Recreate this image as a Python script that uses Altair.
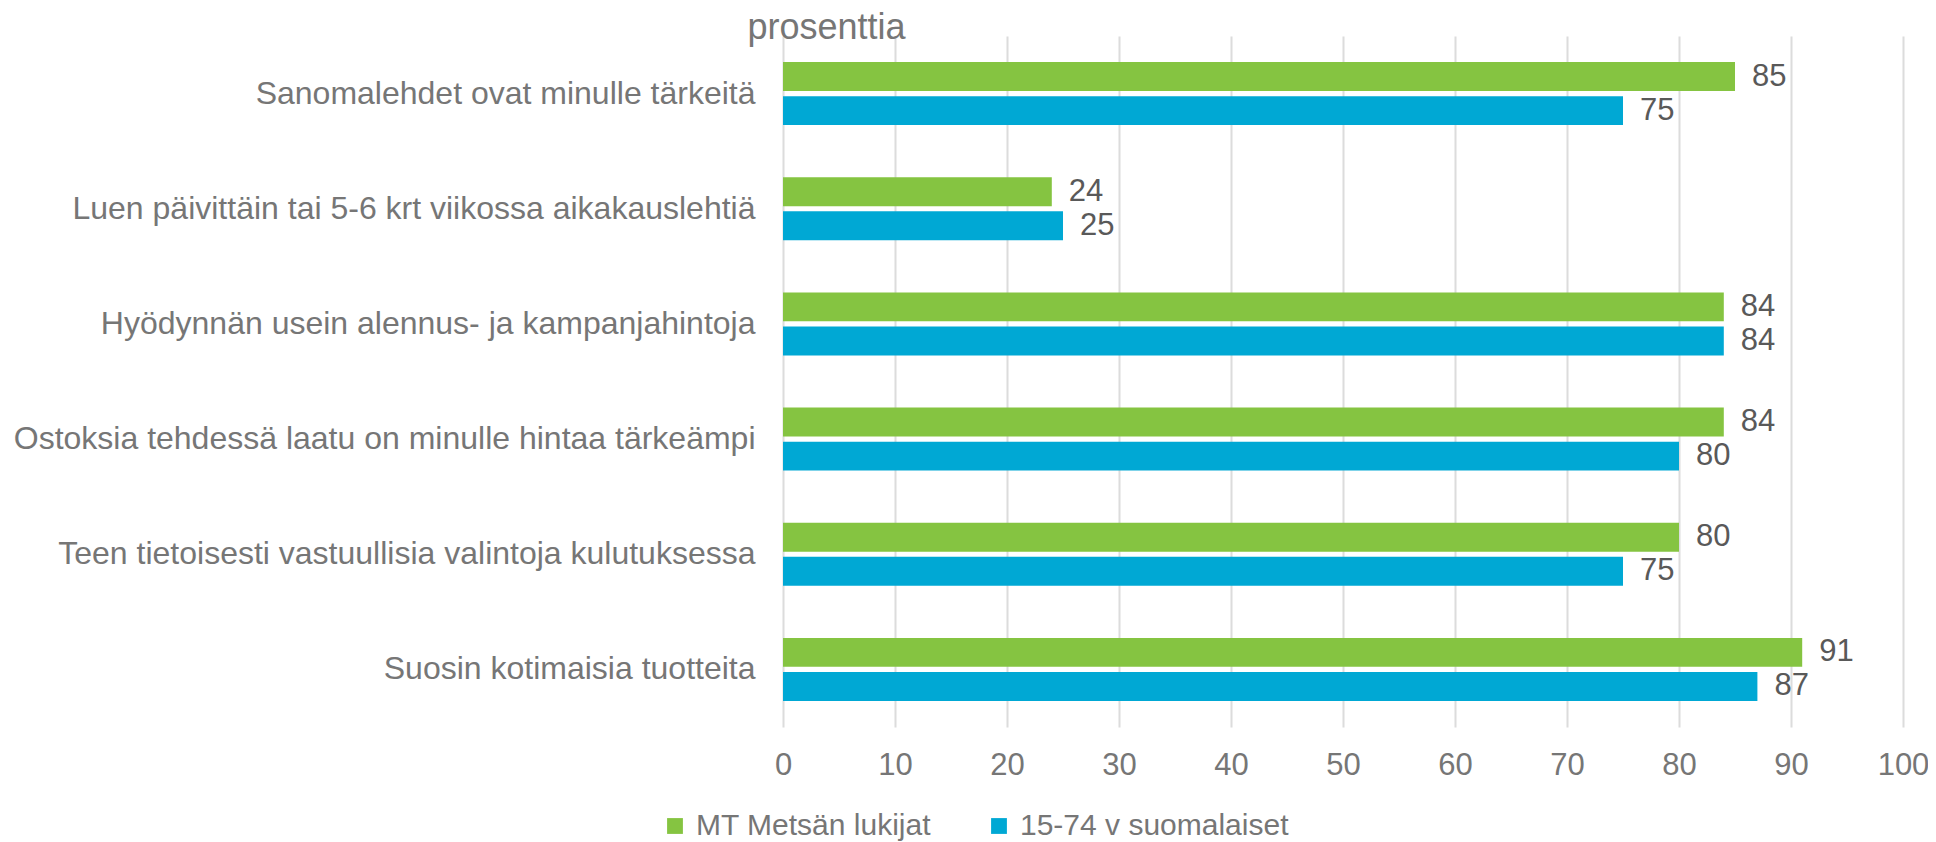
import altair as alt
import pandas as pd

categories = [
    "Sanomalehdet ovat minulle tärkeitä",
    "Luen päivittäin tai 5-6 krt viikossa aikakauslehtiä",
    "Hyödynnän usein alennus- ja kampanjahintoja",
    "Ostoksia tehdessä laatu on minulle hintaa tärkeämpi",
    "Teen tietoisesti vastuullisia valintoja kulutuksessa",
    "Suosin kotimaisia tuotteita",
]
series_names = ["MT Metsän lukijat", "15-74 v suomalaiset"]
mt_values = [85, 24, 84, 84, 80, 91]
fin_values = [75, 25, 84, 80, 75, 87]
series_colors = ["#85C441", "#00A8D4"]
x_ticks = [0, 10, 20, 30, 40, 50, 60, 70, 80, 90, 100]
unit_label = "prosenttia"

rows = []
for c, a, b in zip(categories, mt_values, fin_values):
    rows.append({"kategoria": c, "sarja": series_names[0], "arvo": a})
    rows.append({"kategoria": c, "sarja": series_names[1], "arvo": b})
df = pd.DataFrame(rows)

FONT = "Liberation Sans"
LABEL_GRAY = "#767676"
VALUE_GRAY = "#595959"

y_enc = alt.Y(
    "kategoria:N",
    sort=categories,
    scale=alt.Scale(paddingInner=0.453, paddingOuter=0.2265),
    axis=alt.Axis(
        title=unit_label,
        titleAngle=0,
        titleX=-36,
        titleY=2,
        titleAlign="left",
        titleBaseline="alphabetic",
        titleFontSize=36,
        titleFont=FONT,
        titleFontWeight="normal",
        titleColor=LABEL_GRAY,
        ticks=False,
        domain=False,
        grid=False,
        labelFontSize=32,
        labelFont=FONT,
        labelColor=LABEL_GRAY,
        labelPadding=28,
        labelLimit=1000,
    ),
)
yoff_enc = alt.YOffset(
    "sarja:N",
    sort=series_names,
    scale=alt.Scale(paddingInner=0.15, paddingOuter=0),
)
x_enc = alt.X(
    "arvo:Q",
    scale=alt.Scale(domain=[0, 100], nice=False),
    axis=alt.Axis(
        title=None,
        values=x_ticks,
        ticks=False,
        domain=False,
        grid=True,
        gridColor="#DCDCDC",
        gridWidth=2,
        labelFontSize=31,
        labelFont=FONT,
        labelColor=LABEL_GRAY,
        labelPadding=23,
        labelFlush=False,
    ),
)
color_enc = alt.Color(
    "sarja:N",
    sort=series_names,
    scale=alt.Scale(domain=series_names, range=series_colors),
    legend=alt.Legend(
        title=None,
        orient="none",
        direction="horizontal",
        legendX=-123,
        legendY=775,
        padding=0,
        symbolType="square",
        symbolSize=250,
        symbolStrokeWidth=0,
        labelFontSize=30,
        labelFont=FONT,
        labelColor=LABEL_GRAY,
        labelOffset=6,
        columnPadding=52,
        labelLimit=1000,
    ),
)

bars = alt.Chart(df).mark_bar().encode(
    x=x_enc, y=y_enc, yOffset=yoff_enc, color=color_enc
)
labels = alt.Chart(df).mark_text(
    align="left", baseline="middle", dx=17, fontSize=31, font=FONT, color=VALUE_GRAY
).encode(
    x="arvo:Q",
    y=alt.Y("kategoria:N", sort=categories),
    yOffset=alt.YOffset("sarja:N", sort=series_names),
    text="arvo:Q",
)

chart = (
    alt.layer(bars, labels)
    .properties(
        width=1120,
        height=691,
        autosize=alt.AutoSizeParams(type="none"),
        padding={"left": 775, "top": 28, "right": 25, "bottom": 115},
    )
    .configure_view(stroke=None)
)

chart.save("out.html", embed_options={"renderer": "svg", "actions": False})
